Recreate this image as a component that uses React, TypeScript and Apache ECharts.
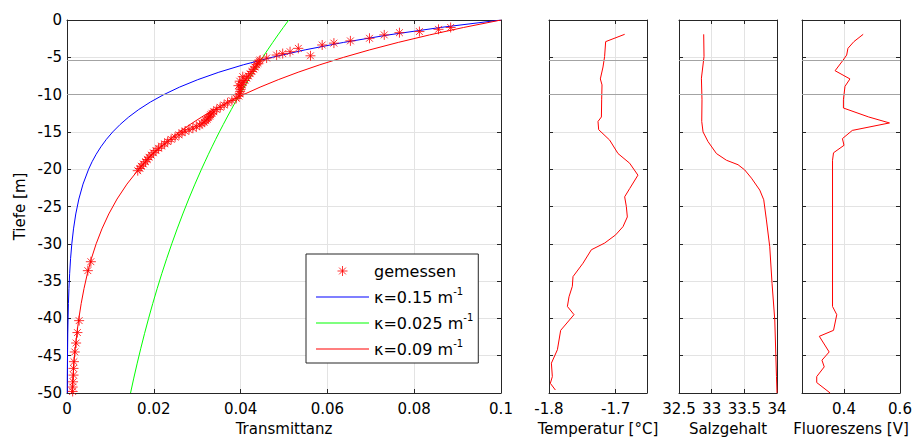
import React, { useEffect, useRef } from "react";
import * as echarts from "echarts";

// ---- model curves (depth in m, transmittance) ----
const modelDepths = [0, 1, 2, 3, 4, 5, 6, 7, 8, 9, 10, 11, 12, 13, 14, 15, 16, 17, 18, 19, 20, 22, 24, 26, 28, 30, 32, 34, 36, 38, 40, 42, 44, 46, 48, 50];
const transKappa015 = [0.1, 0.08607, 0.07408, 0.06376, 0.05488, 0.04724, 0.04066, 0.03499, 0.03012, 0.02592, 0.02231, 0.01921, 0.01653, 0.01423, 0.01225, 0.01054, 0.00907, 0.00781, 0.00672, 0.00578, 0.00498, 0.00369, 0.00273, 0.00202, 0.0015, 0.00111, 0.00082, 0.00061, 0.00045, 0.00033, 0.00025, 0.00018, 0.00014, 0.0001, 0.00007, 0.00006];
const transKappa0025 = [0.0511, 0.04984, 0.04861, 0.04741, 0.04624, 0.0451, 0.04398, 0.0429, 0.04184, 0.0408, 0.0398, 0.03881, 0.03786, 0.03692, 0.03601, 0.03512, 0.03425, 0.03341, 0.03258, 0.03178, 0.03099, 0.02948, 0.02804, 0.02668, 0.02538, 0.02414, 0.02296, 0.02184, 0.02078, 0.01976, 0.0188, 0.01788, 0.01701, 0.01618, 0.01539, 0.01464];
const transKappa009 = [0.1, 0.09139, 0.08353, 0.07634, 0.06977, 0.06376, 0.05827, 0.05326, 0.04868, 0.04449, 0.04066, 0.03716, 0.03396, 0.03104, 0.02837, 0.02592, 0.02369, 0.02165, 0.01979, 0.01809, 0.01653, 0.01381, 0.01153, 0.00963, 0.00805, 0.00672, 0.00561, 0.00469, 0.00392, 0.00327, 0.00273, 0.00228, 0.00191, 0.00159, 0.00133, 0.00111];

// ---- measured transmittance ----
const measDepth = [1.0, 1.25, 1.55, 1.7, 2.0, 2.45, 2.8, 3.1, 3.35, 3.8, 4.25, 4.5, 4.7, 4.8, 5.1, 5.36, 5.5, 5.8, 6.0, 6.3, 6.6, 6.9, 7.2, 7.5, 7.6, 7.8, 8.1, 8.2, 8.4, 8.7, 8.8, 9.0, 9.3, 9.6, 9.9, 10.2, 10.5, 10.8, 11.1, 11.4, 11.7, 12.0, 12.3, 12.5, 12.7, 12.9, 13.1, 13.3, 13.5, 13.7, 13.9, 14.1, 14.3, 14.5, 14.7, 14.9, 15.1, 15.4, 15.7, 16.0, 16.3, 16.6, 16.9, 17.2, 17.5, 17.8, 18.1, 18.4, 18.7, 19.0, 19.3, 19.6, 19.9, 20.2, 32.4, 33.6, 40.3, 41.9, 43.3, 44.5, 45.8, 46.7, 47.6, 48.5, 49.2, 49.8];
const measTrans = [0.0884, 0.0856, 0.0812, 0.0766, 0.0731, 0.0697, 0.0653, 0.0615, 0.0588, 0.0533, 0.0514, 0.0497, 0.0483, 0.0561, 0.046, 0.0445, 0.0443, 0.044, 0.0437, 0.0433, 0.043, 0.0426, 0.0422, 0.0418, 0.0405, 0.0414, 0.041, 0.0398, 0.0406, 0.0403, 0.0395, 0.0401, 0.04, 0.0399, 0.0398, 0.0396, 0.039, 0.038, 0.037, 0.0362, 0.0353, 0.0345, 0.0338, 0.0334, 0.0331, 0.0329, 0.0326, 0.0323, 0.032, 0.0316, 0.0311, 0.0306, 0.0298, 0.029, 0.0281, 0.0272, 0.0265, 0.0258, 0.0249, 0.024, 0.0232, 0.0225, 0.0218, 0.0211, 0.0205, 0.0199, 0.0194, 0.0189, 0.0185, 0.0181, 0.0176, 0.0171, 0.0168, 0.0163, 0.0055, 0.0048, 0.0028, 0.0024, 0.0021, 0.0018, 0.0016, 0.0015, 0.0015, 0.0014, 0.0013, 0.0013];

// ---- temperature profile ----
const tempDepth = [1.92, 2.9, 4.9, 6.3, 7.9, 8.7, 10.7, 13.0, 13.6, 14.7, 16.1, 17.9, 19.2, 20.8, 22.6, 23.7, 25.0, 26.4, 27.7, 28.8, 29.9, 30.8, 32.6, 34.4, 35.7, 37.1, 38.4, 39.5, 41.6, 44.2, 46.0, 47.8, 48.7, 49.6];
const tempValues = [-1.6865, -1.715, -1.7166, -1.719, -1.723, -1.7205, -1.721, -1.7214, -1.7265, -1.7255, -1.709, -1.6965, -1.679, -1.6666, -1.679, -1.6865, -1.684, -1.6825, -1.689, -1.7, -1.7165, -1.7365, -1.749, -1.764, -1.765, -1.77, -1.7724, -1.7625, -1.7825, -1.7874, -1.7964, -1.795, -1.798, -1.7904];

// ---- salinity profile ----
const salDepth = [1.92, 4.9, 7.8, 10.7, 13.6, 15.0, 16.3, 17.9, 18.8, 19.4, 20.1, 21.2, 22.8, 24.1, 26.8, 30.4, 35.3, 40.2, 47.8, 50];
const salValues = [32.878, 32.883, 32.843, 32.852, 32.848, 32.868, 32.944, 33.073, 33.226, 33.404, 33.506, 33.609, 33.736, 33.797, 33.838, 33.889, 33.924, 33.966, 33.992, 34.0];

// ---- fluorescence profile ----
const fluorDepth = [1.92, 2.9, 3.8, 4.7, 5.5, 6.8, 7.9, 8.9, 10.7, 11.8, 13.0, 13.8, 14.8, 15.9, 16.8, 17.8, 18.8, 38.4, 39.5, 41.6, 42.4, 44.5, 45.6, 46.5, 47.8, 48.6, 50];
const fluorValues = [0.4685, 0.4353, 0.4141, 0.4095, 0.3944, 0.3682, 0.4212, 0.4035, 0.3979, 0.3979, 0.4882, 0.5624, 0.4296, 0.3944, 0.4, 0.3626, 0.359, 0.359, 0.3742, 0.3626, 0.3118, 0.347, 0.3213, 0.3294, 0.3026, 0.3026, 0.3506];

// ---- reference depth lines ----
const markerDepths = [-5.4, -10];

const seriesNames = ["gemessen", "κ=0.15 m", "κ=0.025 m", "κ=0.09 m"];
const seriesColors = ["#ff0000", "#0000ff", "#00ff00", "#ff0000"];
const xAxisNames = ["Transmittanz", "Temperatur [°C]", "Salzgehalt", "Fluoreszens [V]"];

const FONT = "DejaVu Sans";
const AX = "#262626";
const GRIDC = "#e3e3e3";
const ASTERISK = "path://M5,0L5,10M0,5L10,5M1.6,1.6L8.4,8.4M1.6,8.4L8.4,1.6";
const LINE_ICON = "path://M0,0L53,0L53,1L0,1Z";

const toPairs = (xs: number[], depths: number[]) => xs.map((v, i) => [v, -depths[i]]);

export default function App() {
  const ref = useRef<HTMLDivElement>(null);
  useEffect(() => {
    if (!ref.current) return;
    const chart = echarts.init(ref.current, undefined, { renderer: "svg" });

    const panels = [
      { left: 67, width: 434, min: 0, max: 0.1, interval: 0.02, custom: null as number[] | null },
      { left: 549, width: 98, min: -1.8, max: -1.653, interval: 0.1, custom: null },
      { left: 679, width: 98, min: 32.5, max: 34, interval: 0.5, custom: null },
      { left: 802, width: 98, min: 0.25, max: 0.6, interval: 0.2, custom: [0.4, 0.6] },
    ];

    const grids = panels.map((p) => ({ left: p.left, top: 20, width: p.width, height: 373, containLabel: false }));
    const xAxes: any[] = [];
    const yAxes: any[] = [];
    panels.forEach((p, i) => {
      const base: any = {
        type: "value",
        gridIndex: i,
        min: p.min,
        max: p.max,
      };
      if (p.custom) {
        base.axisTick = { inside: true, length: 4, lineStyle: { color: AX }, customValues: p.custom };
      } else {
        base.interval = p.interval;
        base.axisTick = { inside: true, length: 4, lineStyle: { color: AX } };
      }
      xAxes.push({
        ...base,
        position: "bottom",
        name: xAxisNames[i],
        nameLocation: "middle",
        nameGap: 28,
        nameTextStyle: { fontFamily: FONT, fontSize: 15, color: "#000" },
        axisLine: { show: true, onZero: false, lineStyle: { color: AX } },
        axisLabel: {
          fontFamily: FONT,
          fontSize: 15,
          color: "#000",
          margin: 8,
          ...(p.custom ? { customValues: p.custom } : {}),
        },
        splitLine: { show: true, lineStyle: { color: GRIDC, width: 1 } },
      });
      xAxes.push({
        ...base,
        position: "top",
        axisLine: { show: true, onZero: false, lineStyle: { color: AX } },
        axisLabel: { show: false },
        splitLine: { show: false },
      });
      const ybase: any = {
        type: "value",
        gridIndex: i,
        min: -50,
        max: 0,
        interval: 5,
        axisTick: { inside: true, length: 4, lineStyle: { color: AX } },
        axisLine: { show: true, onZero: false, lineStyle: { color: AX } },
      };
      yAxes.push({
        ...ybase,
        position: "left",
        name: i === 0 ? "Tiefe [m]" : "",
        nameLocation: "middle",
        nameGap: 40,
        nameRotate: 90,
        nameTextStyle: { fontFamily: FONT, fontSize: 15, color: "#000" },
        axisLabel: { show: i === 0, fontFamily: FONT, fontSize: 15, color: "#000", margin: 5 },
        splitLine: { show: true, lineStyle: { color: GRIDC, width: 1 } },
      });
      yAxes.push({
        ...ybase,
        position: "right",
        axisLabel: { show: false },
        splitLine: { show: false },
      });
    });

    const markLine = {
      silent: true,
      symbol: "none",
      label: { show: false },
      lineStyle: { color: "#a3a3a3", width: 1, type: "solid" },
      data: markerDepths.map((d) => ({ yAxis: d })),
    };

    const lineSeries = (name: string, data: number[][], color: string, idx: number, ml?: any) => ({
      type: "line",
      name,
      data,
      xAxisIndex: idx * 2,
      yAxisIndex: idx * 2,
      symbol: "none",
      showSymbol: false,
      lineStyle: { color, width: 1 },
      itemStyle: { color },
      ...(ml ? { markLine: ml } : {}),
    });

    const series: any[] = [
      {
        type: "line",
        name: "__marks0",
        data: [],
        xAxisIndex: 0,
        yAxisIndex: 0,
        markLine,
        z: 1,
      },
      lineSeries(seriesNames[1], toPairs(transKappa015, modelDepths), seriesColors[1], 0),
      lineSeries(seriesNames[2], toPairs(transKappa0025, modelDepths), seriesColors[2], 0),
      lineSeries(seriesNames[3], toPairs(transKappa009, modelDepths), seriesColors[3], 0),
      {
        type: "scatter",
        name: seriesNames[0],
        data: toPairs(measTrans, measDepth),
        xAxisIndex: 0,
        yAxisIndex: 0,
        symbol: ASTERISK,
        symbolSize: 10,
        itemStyle: { color: "rgba(0,0,0,0)", borderColor: seriesColors[0], borderWidth: 1 },
        z: 5,
      },
      lineSeries("temp", toPairs(tempValues, tempDepth), "#ff0000", 1, markLine),
      lineSeries("sal", toPairs(salValues, salDepth), "#ff0000", 2, markLine),
      lineSeries("fluor", toPairs(fluorValues, fluorDepth), "#ff0000", 3, markLine),
    ];

    chart.setOption({
      animation: false,
      backgroundColor: "#ffffff",
      textStyle: { fontFamily: FONT },
      grid: grids,
      xAxis: xAxes,
      yAxis: yAxes,
      legend: {
        orient: "vertical",
        left: 306,
        top: 254,
        padding: [6, 5, 6, 10],
        itemWidth: 53,
        itemHeight: 10,
        itemGap: 7,
        itemTextGap: 6,
        backgroundColor: "#ffffff",
        borderColor: AX,
        borderWidth: 1,
        selectedMode: false,
        textStyle: {
          fontFamily: FONT,
          fontSize: 16,
          color: "#000",
          rich: {
            sup: { fontFamily: FONT, fontSize: 10, verticalAlign: "top", padding: [0, 0, 12, 0], color: "#000" },
          },
        },
        formatter: (n: string) => (n === seriesNames[0] ? n + "{sup| }" : n + "{sup|-1}"),
        data: [
          {
            name: seriesNames[0],
            icon: ASTERISK,
            itemStyle: { color: "rgba(0,0,0,0)", borderColor: seriesColors[0], borderWidth: 1 },
          },
          { name: seriesNames[1], icon: LINE_ICON, itemStyle: { color: seriesColors[1], borderWidth: 0 } },
          { name: seriesNames[2], icon: LINE_ICON, itemStyle: { color: seriesColors[2], borderWidth: 0 } },
          { name: seriesNames[3], icon: LINE_ICON, itemStyle: { color: seriesColors[3], borderWidth: 0 } },
        ],
      },
      series,
    });
    return () => chart.dispose();
  }, []);
  return (
    <div
      ref={ref}
      style={{ position: "absolute", left: 0, top: 0, width: 915, height: 441, background: "#fff" }}
    />
  );
}
